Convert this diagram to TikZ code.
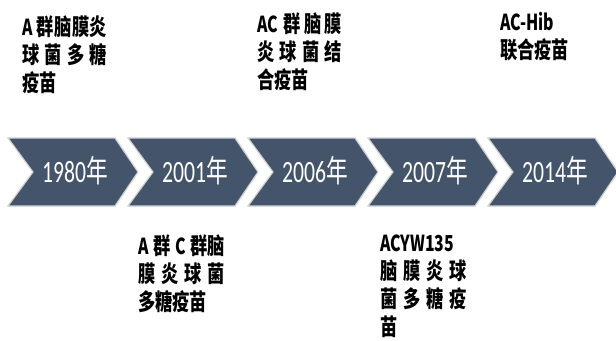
\documentclass[tikz,border=0pt]{standalone}
\usepackage{fontspec}
\setmainfont{Carlito}
\newfontfamily\cjbf{Noto Sans CJK SC}[FakeStretch=0.75]
\newfontfamily\latbf{Noto Sans CJK SC}[FakeStretch=0.72]
\newfontfamily\yrlat{Carlito}[FakeStretch=0.7]
\newfontfamily\yrcjk{Noto Sans CJK SC}[FakeStretch=0.7]
\newcommand\lat[1]{{\latbf\bfseries\fontsize{22bp}{28bp}\selectfont #1}}
\newcommand\cj[1]{{\cjbf\bfseries\fontsize{23bp}{28bp}\selectfont #1}}
\newcommand\jl[2]{\makebox[#1][s]{#2}}
\newcommand\yr[1]{{\yrlat #1}{\yrcjk 年}}
\definecolor{chev}{HTML}{44546A}
\tikzset{
  chevshape/.style={fill=chev, draw=black!18, line width=1.2bp},
  yearlbl/.style={anchor=base, inner sep=0, text=white, font=\fontsize{31bp}{31bp}\selectfont},
  desc/.style={anchor=base west, inner sep=0, align=left, text=black, font=\fontsize{21bp}{28bp}\selectfont}
}
\begin{document}
\begin{tikzpicture}[x=1bp,y=-1bp]
\useasboundingbox (0,0) rectangle (616,340);
\foreach \i/\y in {0/1980,1/2001,2/2006,3/2007,4/2014}{
  \pgfmathsetmacro\xo{8+120*\i}
  \draw[chevshape] (\xo,138) -- ++(107,0) -- ++(23,34) -- ++(-23,34) -- ++(-107,0) -- ++(25,-34) -- cycle;
  \node[yearlbl] (y\y) at (\xo+67,182) {\yr{\y}};
}
% anchor = baseline of the last line
\node[desc] (t1980) at (22,91) {\jl{85bp}{\lat{A}\hspace{4bp}\cj{群}\hfill\cj{脑}\hfill\cj{膜}\hfill\cj{炎}}\\
  \jl{85bp}{\cj{球}\hfill\cj{菌}\hfill\cj{多}\hfill\cj{糖}}\\
  \cj{疫苗}};
\node[desc] (t2006) at (257,88) {\jl{85bp}{\lat{AC}\hfill\cj{群}\,\cj{脑}\,\cj{膜}}\\
  \jl{85bp}{\cj{炎}\hfill\cj{球}\hfill\cj{菌}\hfill\cj{结}}\\
  \cj{合疫苗}};
\node[desc] (t2014) at (500,58) {\lat{AC-Hib}\\ \cj{联合疫苗}};
\node[desc] (t2001) at (138,310) {\jl{87bp}{\lat{A}\hfill\cj{群}\hfill\lat{C}\hfill\cj{群}\cj{脑}}\\
  \jl{87bp}{\cj{膜}\hfill\cj{炎}\hfill\cj{球}\hfill\cj{菌}}\\
  \cj{多糖疫苗}};
\node[desc] (t2007) at (380,335) {\lat{ACYW135}\\
  \jl{87bp}{\cj{脑}\hfill\cj{膜}\hfill\cj{炎}\hfill\cj{球}}\\
  \jl{87bp}{\cj{菌}\hfill\cj{多}\hfill\cj{糖}\hfill\cj{疫}}\\
  \cj{苗}};
\end{tikzpicture}
\end{document}
